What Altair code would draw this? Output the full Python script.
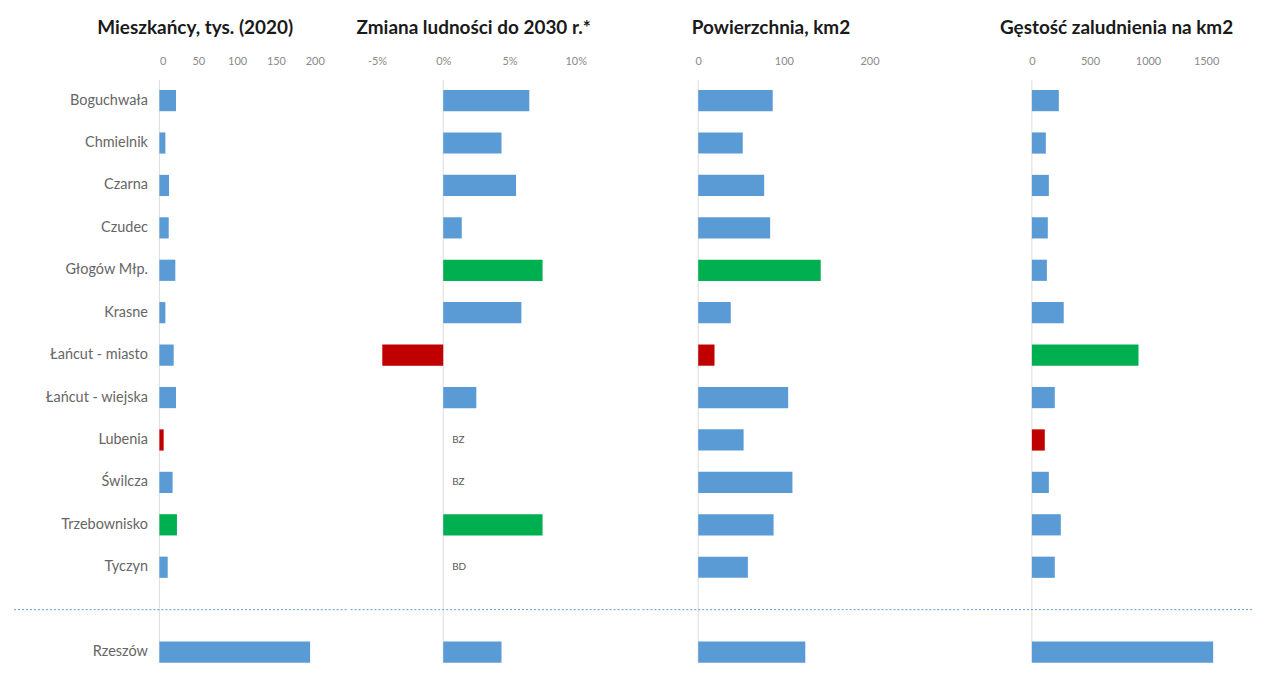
import altair as alt
import pandas as pd

# ---------------- data ----------------
gminy = ["Boguchwała", "Chmielnik", "Czarna", "Czudec", "Głogów Młp.", "Krasne",
         "Łańcut - miasto", "Łańcut - wiejska", "Lubenia", "Świlcza", "Trzebownisko",
         "Tyczyn", "Rzeszów"]
separator = " "
row_order = gminy[:12] + [separator] + gminy[12:]

mieszkancy = [21.4, 7.7, 12.4, 12.0, 20.5, 7.7, 18.4, 21.4, 5.5, 17.0, 22.6, 10.7, 194]
mieszkancy_hl = ["n", "n", "n", "n", "n", "n", "n", "n", "min", "n", "max", "n", "n"]

zmiana = [0.065, 0.044, 0.055, 0.014, 0.075, 0.059, -0.046, 0.025, None, None, 0.075, None, 0.044]
zmiana_hl = ["n", "n", "n", "n", "max", "n", "min", "n", "n", "n", "max", "n", "n"]
zmiana_note = ["", "", "", "", "", "", "", "", "BZ", "BZ", "", "BD", ""]

powierzchnia = [87, 52, 77, 84, 143, 38, 19, 105, 53, 110, 88, 58, 125]
powierzchnia_hl = ["n", "n", "n", "n", "max", "n", "min", "n", "n", "n", "n", "n", "n"]

gestosc = [232, 120, 146, 137, 129, 274, 918, 197, 111, 146, 249, 197, 1561]
gestosc_hl = ["n", "n", "n", "n", "n", "n", "max", "n", "min", "n", "n", "n", "n"]

titles = ["Mieszkańcy, tys. (2020)", "Zmiana ludności do 2030 r.*",
          "Powierzchnia, km2", "Gęstość zaludnienia na km2"]

# ---------------- style ----------------
FONT = "Lato"
H = 575
BLUE, GREEN, RED = "#5B9BD5", "#00B050", "#C00000"


def panel(values, hl, width, domain, ticks, title, title_dx, first=False,
          label_expr=None, notes=None):
    df = pd.DataFrame({"gmina": gminy, "v": values, "hl": hl})
    bars_df = df.dropna(subset=["v"])
    axis_kw = dict(orient="top", values=ticks, domain=False, ticks=False,
                   grid=False, labelFont=FONT, labelFontSize=11,
                   labelColor="#8a8a8a", labelPadding=24, title=None,
                   labelOverlap=False)
    if label_expr:
        axis_kw["labelExpr"] = label_expr
    else:
        axis_kw["format"] = "d"

    def xs():
        return alt.Scale(domain=domain, nice=False, zero=False)

    def xa():
        return alt.Axis(**axis_kw)

    def ys():
        return alt.Scale(domain=row_order, paddingInner=0.5, paddingOuter=0)

    def ya():
        if first:
            return alt.Axis(title=None, domain=False, ticks=False, labelFont=FONT,
                            labelFontSize=14.5, labelColor="#666666", labelPadding=12,
                            minExtent=146, maxExtent=146)
        return None

    bars = alt.Chart(bars_df).mark_bar().encode(
        x=alt.X("v:Q", scale=xs(), axis=xa()),
        y=alt.Y("gmina:N", scale=ys(), axis=ya()),
        color=alt.Color("hl:N",
                        scale=alt.Scale(domain=["n", "max", "min"], range=[BLUE, GREEN, RED]),
                        legend=None),
    )
    zero_df = pd.DataFrame({"v": [0.0]})
    zero = alt.Chart(zero_df).mark_rule(color="#dcdcdc", strokeWidth=1).encode(
        x=alt.X("v:Q", scale=xs(), axis=xa()), y=alt.value(-10), y2=alt.value(H)
    )
    sep_df = pd.DataFrame({"gmina": [separator]})
    sep = alt.Chart(sep_df).mark_rule(color=BLUE, strokeWidth=1, strokeDash=[2, 2]).encode(
        y=alt.Y("gmina:N", scale=ys(), axis=ya(), bandPosition=0.5),
        x=alt.value(-146 if first else 0), x2=alt.value(width),
    )
    layers = [zero, sep, bars]
    if notes:
        ndf = pd.DataFrame({"gmina": gminy, "note": notes})
        ndf = ndf[ndf["note"] != ""].assign(v=0.0)
        txt = alt.Chart(ndf).mark_text(align="left", baseline="middle", dx=9,
                                       font=FONT, fontSize=10, color="#595959").encode(
            x=alt.X("v:Q", scale=xs(), axis=xa()),
            y=alt.Y("gmina:N", scale=ys(), axis=ya(), bandPosition=0.5),
            text="note:N",
        )
        layers.append(txt)
    return alt.layer(*layers).properties(
        width=width, height=H,
        title=alt.TitleParams(text=title, anchor="middle", dx=title_dx, font=FONT,
                              fontSize=19, fontWeight="bold", color="#1a1a1a",
                              offset=17),
    )


p1 = panel(mieszkancy, mieszkancy_hl, 190, [0, 243.6], [0, 50, 100, 150, 200],
           titles[0], -59, first=True)
p2 = panel(zmiana, zmiana_hl, 291, [-0.0699, 0.1489], [-0.05, 0, 0.05, 0.10],
           titles[1], -22, label_expr="round(datum.value*100) + '%'", notes=zmiana_note)
p3 = panel(powierzchnia, powierzchnia_hl, 320, [-65.1, 307], [0, 100, 200],
           titles[2], -31)
p4 = panel(gestosc, gestosc_hl, 290, [-591.8, 1895.4], [0, 500, 1000, 1500],
           titles[3], 9)

chart = alt.hconcat(p1, p2, p3, p4, spacing=0).properties(
    padding={"left": 5, "top": 10, "right": 3, "bottom": 0},
    background="white",
).configure_view(stroke=None)

chart.save("out.html", embed_options={"renderer": "svg", "actions": False})
